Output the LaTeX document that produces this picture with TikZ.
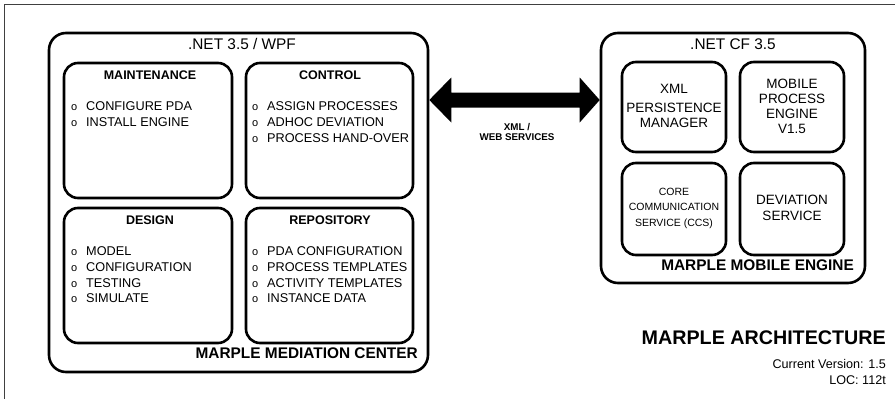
\documentclass[tikz,border=0pt]{standalone}
\usepackage{fontspec}
\setmainfont{Liberation Sans}
\usetikzlibrary{calc}

\newcommand\fs[1]{\fontsize{#1}{#1}\selectfont}
\newcommand\fsb[2]{\fontsize{#1}{#2}\selectfont}
% list entry with a small ring bullet hanging to the left
\newcommand\bul{\llap{{\fontsize{11}{11}\selectfont o}\hspace{9pt}}}

\tikzset{
  outerbox/.style={draw, line width=2.6pt, rounded corners=17pt, inner sep=0pt},
  innerbox/.style={draw, line width=2.6pt, rounded corners=14pt, inner sep=0pt},
  title/.style={font=\fs{15.4}, anchor=mid, inner sep=0pt},
  head/.style={font=\bfseries\fs{12.5}, anchor=mid, inner sep=0pt},
  item/.style={font=\fs{12.7}, anchor=mid west, inner sep=0pt},
  boxname/.style={font=\bfseries\fs{15.4}, anchor=mid east, inner sep=0pt},
  comp/.style={align=center, inner sep=0pt},
  frameline/.style={line width=1pt, black!75},
}

\begin{document}
\begin{tikzpicture}[x=1pt, y=-1pt]
\useasboundingbox (0,0) rectangle (895,399);

% page frame
\coordinate (fbl) at (4,399);
\coordinate (ftl) at (4,4);
\coordinate (ftr) at (895,4);
\draw[frameline] (fbl) -- (ftl) -- (ftr);

% ---------------- mediation center ----------------
\node[outerbox, minimum width=379pt, minimum height=339pt] (mmc) at (238.5,202.5) {};
\node[title] (mmct) at (242,47) {.NET 3.5 / WPF};
\node[boxname] (mmcn) at (418,356) {MARPLE MEDIATION CENTER};

\node[innerbox, minimum width=168pt, minimum height=135pt] (maint) at (148,130.5) {};
\node[innerbox, minimum width=167pt, minimum height=135pt] (ctrl) at (329.5,130.5) {};
\node[innerbox, minimum width=168pt, minimum height=135pt] (design) at (148,275.5) {};
\node[innerbox, minimum width=167pt, minimum height=135pt] (repo) at (329.5,275.5) {};

\node[head] (mainth) at (150,77) {MAINTENANCE};
\node[head] (ctrlh) at (330,77) {CONTROL};
\node[head] (designh) at (150,222) {DESIGN};
\node[head] (repoh) at (330,222) {REPOSITORY};

\foreach \t [count=\i] in {CONFIGURE PDA, INSTALL ENGINE}
  \node[item] (mi\i) at (86,92+16*\i) {\bul\t};
\foreach \t [count=\i] in {ASSIGN PROCESSES, ADHOC DEVIATION, PROCESS HAND-OVER}
  \node[item] (ci\i) at (267,92+16*\i) {\bul\t};
\foreach \t [count=\i] in {MODEL, CONFIGURATION, TESTING, SIMULATE}
  \node[item] (di\i) at (86,237.5+15.7*\i) {\bul\t};
\foreach \t [count=\i] in {PDA CONFIGURATION, PROCESS TEMPLATES, ACTIVITY TEMPLATES, INSTANCE DATA}
  \node[item] (ri\i) at (267,237.5+15.7*\i) {\bul\t};

% ---------------- mobile engine ----------------
\node[outerbox, minimum width=264pt, minimum height=250pt] (mme) at (733,158) {};
\node[title] (mmet) at (733,47) {.NET CF 3.5};
\node[boxname] (mmen) at (854,268) {MARPLE MOBILE ENGINE};

\node[innerbox, minimum width=104pt, minimum height=90pt] (xmlp) at (674,107) {};
\node[innerbox, minimum width=104pt, minimum height=90pt] (mpe) at (792,107) {};
\node[innerbox, minimum width=104pt, minimum height=92pt] (ccs) at (674,209) {};
\node[innerbox, minimum width=104pt, minimum height=92pt] (dev) at (792,209) {};

\node[comp, font=\fsb{13.5}{15}] (xmlpt) at (674,106) {XML\\[3.5pt]PERSISTENCE\\MANAGER};
\node[comp, font=\fsb{13.5}{15}] (mpet) at (792,106) {MOBILE\\PROCESS\\ENGINE\\V1.5};
\node[comp, font=\fsb{10.5}{15.5}] (ccst) at (674,208) {CORE\\COMMUNICATION\\SERVICE (CCS)};
\node[comp, font=\fsb{13.5}{15.5}] (devt) at (792,208) {DEVIATION\\SERVICE};

% ---------------- link between the two ----------------
\coordinate (arow) at (0,100);
\coordinate (la) at (mmc.east |- arow);
\coordinate (ra) at (mme.west |- arow);
\fill (la) -- ++(22,-22.5) -- ++(0,15) -- ($(ra)+(-20,-7.5)$) -- ++(0,-15) -- (ra)
      -- ++(-20,22.5) -- ++(0,-15) -- ($(la)+(22,7.5)$) -- ++(0,15) -- cycle;
\node[font=\bfseries\fsb{9.8}{10.5}, align=center, inner sep=0pt] (link) at (517,132)
  {XML /\\WEB SERVICES};

% ---------------- caption ----------------
\node[font=\bfseries\fs{19.7}, anchor=mid east, inner sep=0pt] (cap) at (886,342) {MARPLE ARCHITECTURE};
\node[font=\fs{12.6}, anchor=mid east, inner sep=0pt] (ver) at (886,366) {Current Version: 1.5};
\node[font=\fs{12.6}, anchor=mid east, inner sep=0pt] (loc) at (886,382) {LOC: 112t};
\end{tikzpicture}
\end{document}
